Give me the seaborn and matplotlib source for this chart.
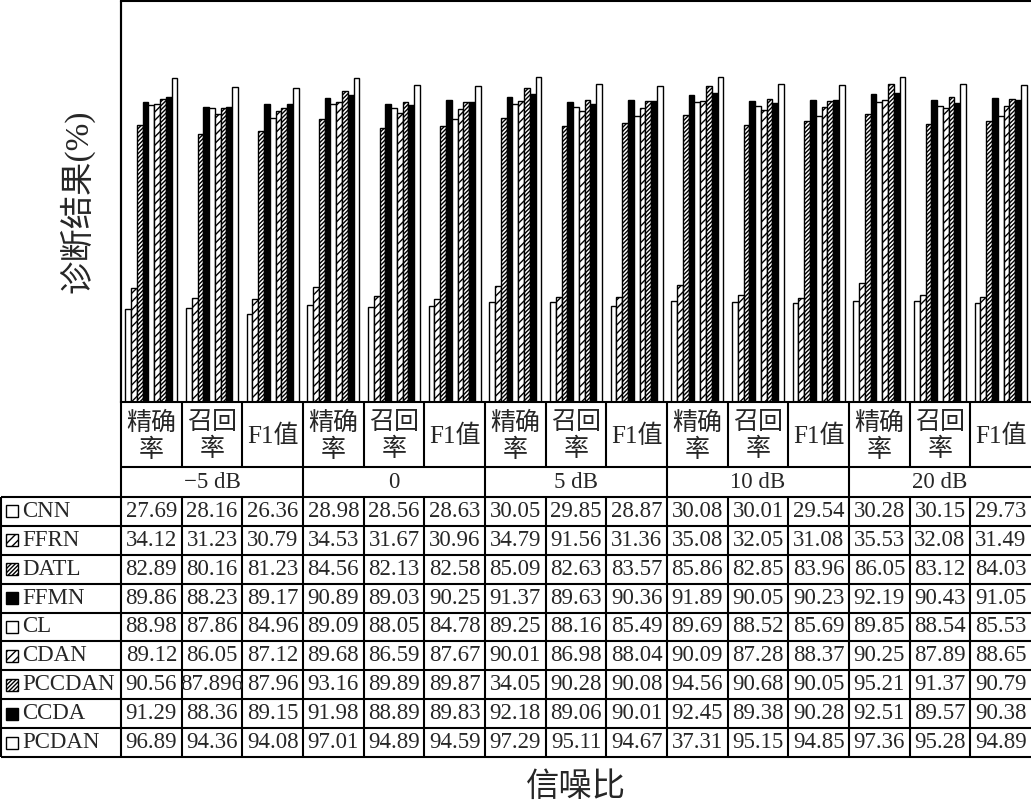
import numpy as np
import pandas as pd
import matplotlib
matplotlib.use("Agg")
import matplotlib.pyplot as plt
from matplotlib.patches import Rectangle
import seaborn as sns

sns.set_style("white")
plt.rcParams["font.family"] = ["Liberation Serif", "Noto Sans CJK SC"]
plt.rcParams["hatch.linewidth"] = 1.0

## datos

snr_labels = ["\u22125 dB", "0", "5 dB", "10 dB", "20 dB"]
metric_labels = ["精确\n率", "召回\n率", "F1值"]
models = ["CNN", "FFRN", "DATL", "FFMN", "CL", "CDAN", "PCCDAN", "CCDA", "PCDAN"]

# valores de la tabla (por SNR: precision, recall, F1)
cnn = [27.69, 28.16, 26.36, 28.98, 28.56, 28.63, 30.05, 29.85, 28.87, 30.08, 30.01, 29.54, 30.28, 30.15, 29.73]
ffrn = [34.12, 31.23, 30.79, 34.53, 31.67, 30.96, 34.79, 91.56, 31.36, 35.08, 32.05, 31.08, 35.53, 32.08, 31.49]
datl = [82.89, 80.16, 81.23, 84.56, 82.13, 82.58, 85.09, 82.63, 83.57, 85.86, 82.85, 83.96, 86.05, 83.12, 84.03]
ffmn = [89.86, 88.23, 89.17, 90.89, 89.03, 90.25, 91.37, 89.63, 90.36, 91.89, 90.05, 90.23, 92.19, 90.43, 91.05]
cl = [88.98, 87.86, 84.96, 89.09, 88.05, 84.78, 89.25, 88.16, 85.49, 89.69, 88.52, 85.69, 89.85, 88.54, 85.53]
cdan = [89.12, 86.05, 87.12, 89.68, 86.59, 87.67, 90.01, 86.98, 88.04, 90.09, 87.28, 88.37, 90.25, 87.89, 88.65]
pccdan = [90.56, 87.896, 87.96, 93.16, 89.89, 89.87, 34.05, 90.28, 90.08, 94.56, 90.68, 90.05, 95.21, 91.37, 90.79]
ccda = [91.29, 88.36, 89.15, 91.98, 88.89, 89.83, 92.18, 89.06, 90.01, 92.45, 89.38, 90.28, 92.51, 89.57, 90.38]
pcdan = [96.89, 94.36, 94.08, 97.01, 94.89, 94.59, 97.29, 95.11, 94.67, 37.31, 95.15, 94.85, 97.36, 95.28, 94.89]

table_vals = dict(zip(models, [cnn, ffrn, datl, ffmn, cl, cdan, pccdan, ccda, pcdan]))

# las barras no siguen las erratas de la tabla
bar_fix = {("FFRN", 7): 31.56, ("PCCDAN", 6): 94.05, ("PCDAN", 9): 97.31}

face = ["white", "white", "white", "black", "white", "white", "white", "black", "white"]
hatches = ["", "////", "////////", "", "", "////", "////////", "", ""]

rows = []
for m in models:
    for i, v in enumerate(table_vals[m]):
        rows.append({"col": i, "model": m, "value": bar_fix.get((m, i), v)})
df = pd.DataFrame(rows)

## figura

W, H = 1031, 806
fig = plt.figure(figsize=(W / 100, H / 100), dpi=100)
x0, ytop, ybot = 121, 1, 402
ax = fig.add_axes([x0 / W, 1 - ybot / H, 1 - x0 / W, (ybot - ytop) / H])

sns.barplot(
    data=df, x="col", y="value", hue="model", hue_order=models,
    order=list(range(15)), palette=face, saturation=1, width=0.86,
    edgecolor="black", linewidth=1.0, legend=False, ax=ax,
)
for cont, h in zip(ax.containers, hatches):
    for bar in cont:
        bar.set_hatch(h)

ax.set_xlim(-0.5, 14.5)
ax.set_ylim(0, 120)
ax.set_xticks([])
ax.set_yticks([])
ax.set_xlabel("")
ax.set_ylabel("")
ax.spines["right"].set_visible(False)
for s in ["left", "top", "bottom"]:
    ax.spines[s].set_linewidth(1.5)
    ax.spines[s].set_color("black")

# tabla
tab = fig.add_axes([0, 0, 1, 1])
tab.set_xlim(0, W)
tab.set_ylim(H, 0)
tab.axis("off")

colw = (W - x0) / 15
lw = 1.5
fs = 16.5
y_hdr, y_snr, y_data, y_end = ybot, 467, 497, 757
rowh = (y_end - y_data) / len(models)

tab.hlines([y_snr], x0, W, color="black", lw=lw)
tab.hlines([y_data + r * rowh for r in range(len(models) + 1)], 1, W, color="black", lw=lw)
tab.vlines([x0], ytop, y_end, color="black", lw=lw)
tab.vlines([1], y_data, y_end, color="black", lw=lw)
for i in range(1, 15):
    xb = x0 + i * colw
    tab.vlines(xb, y_hdr, y_snr, color="black", lw=lw)
    tab.vlines(xb, y_data, y_end, color="black", lw=lw)
    if i % 3 == 0:
        tab.vlines(xb, y_snr, y_data, color="black", lw=lw)

for i in range(15):
    tab.text(x0 + (i + 0.5) * colw, (y_hdr + y_snr) / 2 + 2, metric_labels[i % 3],
             ha="center", va="center", fontsize=18, linespacing=1.25)
for k, s in enumerate(snr_labels):
    tab.text(x0 + (3 * k + 1.5) * colw, (y_snr + y_data) / 2, s,
             ha="center", va="center", fontsize=fs)

for r, m in enumerate(models):
    yc = y_data + (r + 0.5) * rowh
    tab.add_patch(Rectangle((6, yc - 6), 12, 12, facecolor=face[r],
                            edgecolor="black", hatch=hatches[r], lw=1.0))
    tab.text(22, yc, m, ha="left", va="center", fontsize=fs)
    for i, v in enumerate(table_vals[m]):
        tab.text(x0 + (i + 0.5) * colw, yc, f"{v:g}", ha="center", va="center", fontsize=fs)

fig.text(77 / W, 1 - 201 / H, "诊断结果(%)", rotation=90, ha="center", va="center", fontsize=24)
fig.text((x0 + W) / 2 / W, 1 - 788 / H, "信噪比", ha="center", va="center", fontsize=24)

fig.savefig("out.png", dpi=100)
plt.close()
